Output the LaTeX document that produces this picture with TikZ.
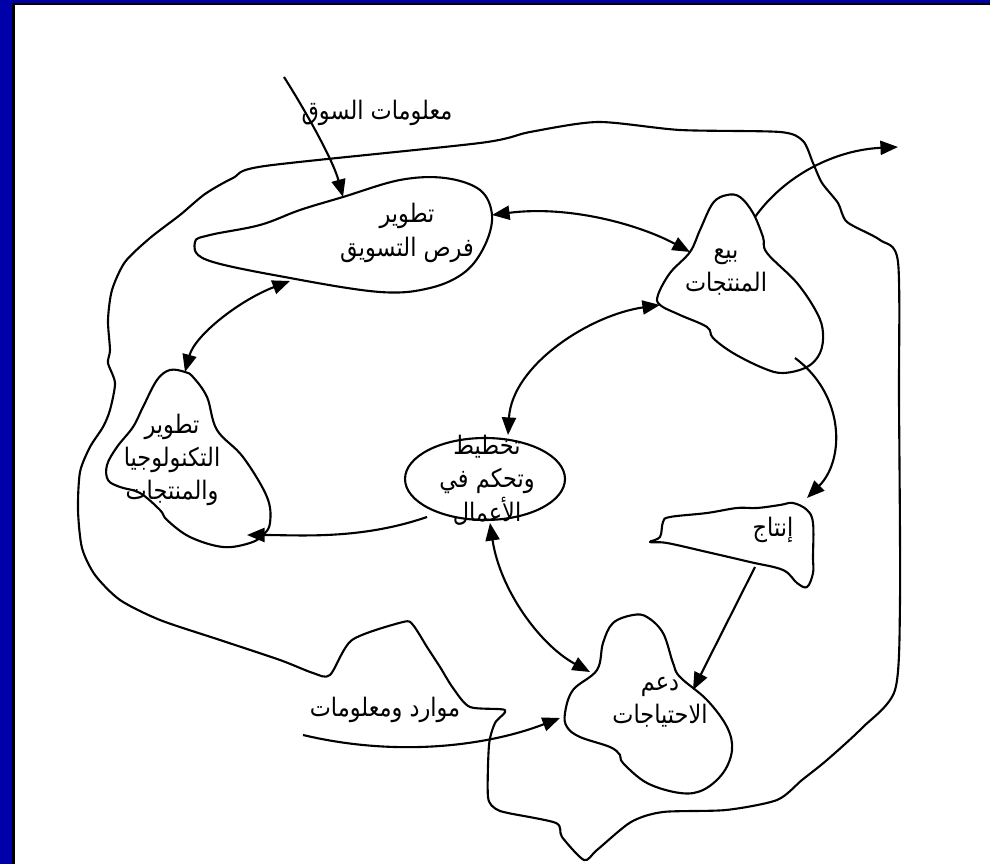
\documentclass[tikz,border=0pt]{standalone}
\usepackage{fontspec}
\newfontfamily\arabicfont[Script=Arabic,FakeStretch=0.88]{DejaVu Sans}
\TeXXeTstate=1
\usetikzlibrary{arrows.meta,shapes.geometric}
\newcommand\artxt[1]{\beginR #1\endR}
\definecolor{framecol}{RGB}{0,0,170}

\begin{document}
\begin{tikzpicture}[x=0.02cm,y=-0.02cm,
  outline/.style={line width=1.2pt, line join=round},
  flow/.style={line width=1.2pt, -{Triangle[length=10pt,width=8pt]}},
  both/.style={line width=1.2pt, {Triangle[length=10pt,width=8pt]}-{Triangle[length=10pt,width=8pt]}},
  lbl/.style={font=\arabicfont\fontsize{14.5}{19}\selectfont, align=center, inner sep=0pt}]

% page and frame
\useasboundingbox (0,0) rectangle (990,864);
\fill[white] (0,0) rectangle (990,864);
\fill[framecol] (0,0) rectangle (12,864);
\fill[framecol] (0,0) rectangle (990,3.4);
\fill[black] (12,3.4) rectangle (990,5);
\fill[black] (12,3.4) rectangle (15,864);

% outer boundary of the enterprise
\draw[outline] plot[smooth cycle, tension=0.45] coordinates {
  (180,215) (150,238) (125,262) (112,290) (108,320) (110,350) (108,363)
  (115,383) (110,410) (103,427) (90,447) (80,472) (78,510) (82,548)
  (95,575) (120,600) (160,620) (220,640) (280,660) (313,673) (330,675)
  (352,640) (403,622) (413,625) (427,647) (440,667) (453,688) (470,707)
  (505,710) (495,723) (489,745) (488,797) (496,809) (508,813) (556,823)
  (562,837) (584,860) (597,850) (631,822) (663,812) (726,810) (777,800)
  (802,780) (827,760) (862,728) (895,690) (900,600) (899,400) (898,262)
  (880,240) (847,222) (838,203) (822,183) (813,163) (803,141)
  (780,132) (680,130) (598,122) (530,132) (480,143)
  (265,166) (233,178) (205,194)};

% activity blobs
\draw[outline] plot[smooth cycle, tension=0.6] coordinates {
  (195,242) (210,235) (260,225) (300,210) (343,197) (400,180) (445,178)
  (480,190) (492,215) (485,245) (465,272) (430,288) (380,292) (290,278)
  (207,260)};
\draw[outline] plot[smooth cycle, tension=0.6] coordinates {
  (727,195) (740,197) (753,213) (763,237) (767,253) (797,283) (817,313)
  (823,333) (820,353) (807,367) (783,373) (763,368) (733,353) (713,338)
  (707,327) (680,315) (660,305) (658,295) (670,273) (690,252) (700,230)
  (713,203)};
\draw[outline] plot[smooth cycle, tension=0.6] coordinates {
  (185,372) (170,370) (157,380) (143,407) (133,427) (117,447) (107,465)
  (108,480) (120,487) (140,493) (160,510) (167,520) (190,537) (223,547)
  (250,543) (263,535) (270,523) (267,497) (243,457) (217,430) (207,397)
  (193,377)};
\node[draw, line width=1.2pt, ellipse, minimum width=3.2cm, minimum height=1.64cm,
      inner sep=0pt] (plan) at (485,479) {};
\draw[outline] plot[smooth cycle, tension=0.6] coordinates {
  (650,542) (660,537) (663,522) (670,517) (707,513) (737,508) (757,508)
  (780,505) (793,503) (807,510) (813,523) (813,557) (813,573) (807,587)
  (797,583) (783,570) (750,562) (707,552) (667,543)};
\draw[outline] plot[smooth cycle, tension=0.6] coordinates {
  (633,615) (613,623) (603,643) (597,670) (573,690) (565,713) (567,727)
  (580,737) (610,747) (620,755) (623,763) (647,783) (680,793) (703,790)
  (723,773) (732,750) (727,727) (707,700) (680,677) (673,663) (663,633)
  (647,617)};

% labels
\node[lbl] (mktinfo) at (377,113) {\artxt{معلومات السوق}};
\node[lbl] (fursa) at (407,233) {\artxt{تطوير}\\\artxt{فرص التسويق}};
\node[lbl] (bay) at (726,272) {\artxt{بيع}\\\artxt{المنتجات}};
\node[lbl] (tech) at (172,460) {\artxt{تطوير}\\\artxt{التكنولوجيا}\\\artxt{والمنتجات}};
\node[lbl] (plantxt) at (487,480) {\artxt{تخطيط}\\\artxt{وتحكم في}\\\artxt{الأعمال}};
\node[lbl] (prod) at (773,530) {\artxt{إنتاج}};
\node[lbl] (support) at (660,702) {\artxt{دعم}\\\artxt{الاحتياجات}};
\node[lbl] (resinfo) at (385,710) {\artxt{موارد ومعلومات}};

% connector end points on the blob outlines
\coordinate (mktsrc) at (284,77);
\coordinate (fursaTop) at (343,197);
\coordinate (fursaRight) at (492,215);
\coordinate (fursaLow) at (290,281);
\coordinate (bayLeft) at (690,252);
\coordinate (bayLow) at (660,305);
\coordinate (bayTop) at (755,217);
\coordinate (bayBottom) at (795,358);
\coordinate (exitpt) at (898,147);
\coordinate (techTop) at (185,372);
\coordinate (techRight) at (247,535);
\coordinate (planTop) at (508,435);
\coordinate (planLeft) at (427,517);
\coordinate (planBottom) at (490,523);
\coordinate (prodTop) at (807,498);
\coordinate (prodLow) at (755,567);
\coordinate (supTop) at (590,672);
\coordinate (supLeft) at (560,718);
\coordinate (supRight) at (693,690);
\coordinate (ressrc) at (303,735);

% connectors
\draw[flow] (mktsrc) .. controls (305,110) and (333,160) .. (fursaTop);
\draw[flow] (bayTop) .. controls (785,175) and (835,150) .. (exitpt);
\draw[flow] (ressrc) .. controls (400,758) and (490,745) .. (supLeft);
\draw[both] (fursaRight) .. controls (570,205) and (640,225) .. (bayLeft);
\draw[both] (fursaLow) .. controls (240,300) and (195,335) .. (techTop);
\draw[both] (planTop) .. controls (512,365) and (590,315) .. (bayLow);
\draw[flow] (bayBottom) .. controls (845,395) and (845,460) .. (prodTop);
\draw[flow] (prodLow) -- (supRight);
\draw[flow] (planLeft) .. controls (360,540) and (300,535) .. (techRight);
\draw[both] (planBottom) .. controls (500,590) and (540,645) .. (supTop);
\end{tikzpicture}
\end{document}
